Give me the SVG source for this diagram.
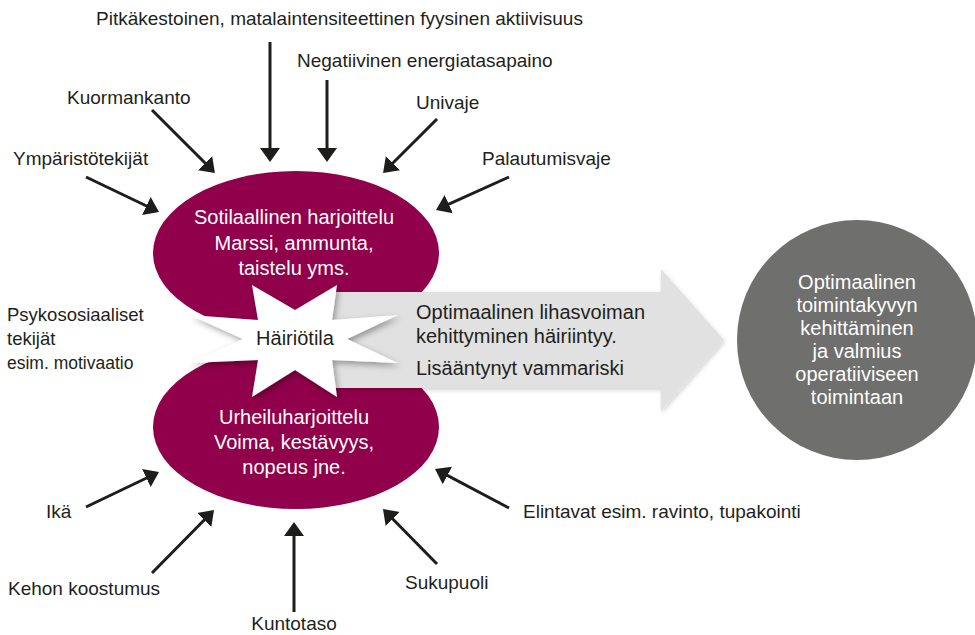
<svg xmlns="http://www.w3.org/2000/svg" width="975" height="635" viewBox="0 0 975 635">
<defs>
<style>
text{font-family:"Liberation Sans",Arial,sans-serif;}
.lbl{font-size:19px;fill:#231f20;}
.in{font-size:20px;fill:#ffffff;text-anchor:middle;}
.dark{font-size:20px;fill:#231f20;}
.con line{stroke:#1d1d1b;stroke-width:3;marker-end:url(#ah);}
.ell{fill:#91004a;}
</style>
<marker id="ah" markerUnits="userSpaceOnUse" viewBox="0 -11 15 22" refX="6" refY="0" markerWidth="15" markerHeight="22" orient="auto">
<path d="M0,-10 L14,0 L0,10 z" fill="#1d1d1b"/>
</marker>
<filter id="sh" x="-20%" y="-20%" width="140%" height="140%">
<feDropShadow dx="2" dy="3" stdDeviation="3" flood-color="#000" flood-opacity="0.35"/>
</filter>
<filter id="sh2" x="-10%" y="-10%" width="120%" height="130%">
<feDropShadow dx="1" dy="2" stdDeviation="2" flood-color="#000" flood-opacity="0.18"/>
</filter>
</defs>
<rect width="975" height="635" fill="#ffffff"/>

<g id="node-sotilaallinen">
<ellipse class="ell" cx="296" cy="253" rx="143" ry="82"/>
<text class="in" x="294" y="224">Sotilaallinen harjoittelu</text>
<text class="in" x="294" y="250">Marssi, ammunta,</text>
<text class="in" x="294" y="275">taistelu yms.</text>
</g>

<g id="node-urheilu">
<ellipse class="ell" cx="296" cy="427" rx="143" ry="82"/>
<text class="in" x="294" y="424">Urheiluharjoittelu</text>
<text class="in" x="294" y="449">Voima, kestävyys,</text>
<text class="in" x="294" y="474">nopeus jne.</text>
</g>

<g id="node-vaikutus">
<path d="M330,292 L661,292 L661,269 L724,340 L661,411 L661,388 L330,388 z" fill="#e1e1e1" filter="url(#sh2)"/>
<text class="dark" x="416" y="319">Optimaalinen lihasvoiman</text>
<text class="dark" x="416" y="343">kehittyminen häiriintyy.</text>
<text class="dark" x="416" y="375">Lisääntynyt vammariski</text>
</g>

<g id="node-hairiotila">
<polygon points="252,285 295,310 337,285 332,320 398,315 347,339 398,363 332,360 337,397 295,370 252,397 258,360 190,363 243,339 190,315 258,320" fill="#ffffff" filter="url(#sh)"/>
<text class="dark" x="295" y="345" text-anchor="middle">Häiriötila</text>
</g>

<g id="node-tavoite">
<circle cx="857" cy="340" r="120" fill="#6f6f6e"/>
<text class="in" x="857" y="289">Optimaalinen</text>
<text class="in" x="857" y="312">toimintakyvyn</text>
<text class="in" x="857" y="335">kehittäminen</text>
<text class="in" x="857" y="358">ja valmius</text>
<text class="in" x="857" y="381">operatiiviseen</text>
<text class="in" x="857" y="404">toimintaan</text>
</g>

<g id="node-pitkakestoinen"><text class="lbl" x="96" y="25">Pitkäkestoinen, matalaintensiteettinen fyysinen aktiivisuus</text></g>
<g id="node-negatiivinen"><text class="lbl" x="297" y="67">Negatiivinen energiatasapaino</text></g>
<g id="node-kuormankanto"><text class="lbl" x="67" y="104">Kuormankanto</text></g>
<g id="node-univaje"><text class="lbl" x="416" y="109">Univaje</text></g>
<g id="node-ymparisto"><text class="lbl" x="13" y="165">Ympäristötekijät</text></g>
<g id="node-palautumisvaje"><text class="lbl" x="482" y="165">Palautumisvaje</text></g>
<g id="node-psykososiaaliset">
<text class="lbl" x="7" y="321" style="font-size:18.5px">Psykososiaaliset</text>
<text class="lbl" x="7" y="345" style="font-size:18.5px">tekijät</text>
<text class="lbl" x="7" y="369" style="font-size:17.5px">esim. motivaatio</text>
</g>
<g id="node-ika"><text class="lbl" x="46" y="518">Ikä</text></g>
<g id="node-elintavat"><text class="lbl" x="523" y="518">Elintavat esim. ravinto, tupakointi</text></g>
<g id="node-kehon"><text class="lbl" x="8" y="595">Kehon koostumus</text></g>
<g id="node-sukupuoli"><text class="lbl" x="405" y="589">Sukupuoli</text></g>
<g id="node-kuntotaso"><text class="lbl" x="294" y="630" text-anchor="middle">Kuntotaso</text></g>

<g id="connectors" class="con">
<line x1="270" y1="42" x2="270" y2="154"/>
<line x1="327" y1="80" x2="327" y2="154"/>
<line x1="152" y1="110" x2="209.3" y2="167.3"/>
<line x1="86" y1="177" x2="151.8" y2="208.5"/>
<line x1="437" y1="119" x2="388.7" y2="167.3"/>
<line x1="509" y1="177" x2="443.3" y2="206.7"/>
<line x1="86" y1="507" x2="151.8" y2="475.5"/>
<line x1="152" y1="573" x2="208.4" y2="515.7"/>
<line x1="294" y1="612" x2="294" y2="530"/>
<line x1="437" y1="564" x2="388.6" y2="514.7"/>
<line x1="509" y1="508" x2="442.1" y2="472.7"/>
</g>
</svg>
